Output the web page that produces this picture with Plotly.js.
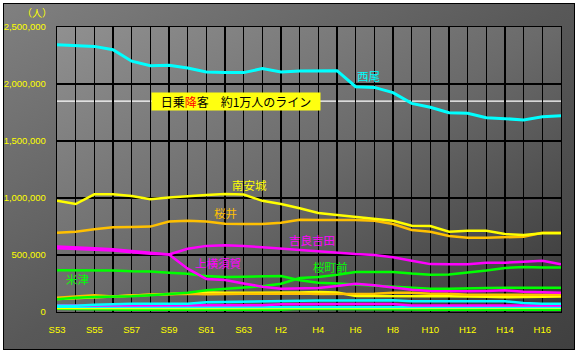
<!DOCTYPE html>
<html><head><meta charset="utf-8">
<script src="https://cdn.plot.ly/plotly-3.0.1.min.js"></script>
<style>
html,body{margin:0;padding:0;background:#fff;}
#wrap{position:relative;width:578px;height:353px;overflow:hidden;background:#fff;}
#frame{position:absolute;left:3px;top:3px;width:570px;height:345px;border:1px solid #000;background:linear-gradient(to bottom right,#808080 0%,#585858 50%,#404040 100%);}
#plotbg{position:absolute;left:57px;top:27px;width:504px;height:285px;background:linear-gradient(to bottom right,#909090 0%,#6a6a6a 50%,#383838 100%);}
#chart{position:absolute;left:0;top:0;width:578px;height:353px;}
</style></head><body>
<div id="wrap"><div id="frame"></div><div id="plotbg"></div><div id="chart"></div></div>
<script>
// Categories: fiscal years S53 (1978) .. H17 (2005)
const categories = ['S53','S54','S55','S56','S57','S58','S59','S60','S61','S62','S63','H1','H2','H3','H4','H5','H6','H7','H8','H9','H10','H11','H12','H13','H14','H15','H16','H17'];
const xTickText  = ['S53','','S55','','S57','','S59','','S61','','S63','','H2','','H4','','H6','','H8','','H10','','H12','','H14','','H16',''];

// Passenger counts (人)
const nishio        = [2345000,2335000,2330000,2300000,2200000,2160000,2165000,2140000,2105000,2100000,2100000,2135000,2105000,2115000,2115000,2117000,1976000,1970000,1924000,1830000,1796000,1748000,1743000,1704000,1696000,1684000,1713000,1722000];
const minamiAnjo    = [976000,947000,1032000,1032000,1018000,989000,1005000,1018000,1026000,1035000,1030000,975000,947000,910000,868000,851000,836000,822000,801000,757000,754000,704000,713000,713000,684000,675000,690000,690000];
const sakurai       = [696000,705000,725000,743000,746000,749000,793000,801000,793000,775000,772000,772000,783000,810000,807000,807000,807000,800000,772000,719000,704000,667000,652000,652000,655000,660000,696000,696000];
const kiraYoshida   = [575000,570000,560000,550000,535000,515000,505000,555000,580000,585000,580000,568000,556000,544000,530000,515000,508000,500000,480000,450000,420000,418000,418000,432000,432000,441000,450000,418000];
const kamiYokosuka  = [560000,555000,550000,540000,525000,510000,505000,380000,290000,280000,250000,222000,205000,205000,211000,228000,248000,234000,215000,195000,185000,181000,181000,185000,190000,178000,172000,169000];
const yonezu        = [366000,366000,366000,364000,357000,355000,345000,336000,316000,307000,310000,316000,316000,278000,257000,249000,240000,237000,228000,219000,205000,205000,205000,210000,213000,213000,213000,213000];
const sakuramachi   = [111000,125000,132000,134000,138000,146000,155000,169000,190000,205000,215000,225000,248000,298000,307000,327000,351000,351000,351000,337000,327000,330000,345000,364000,386000,395000,390000,390000];
const orangeSmall   = [125000,137000,146000,137000,146000,152000,155000,161000,155000,161000,161000,161000,163000,163000,158000,158000,161000,161000,169000,169000,161000,161000,152000,152000,152000,152000,152000,152000];
const yellowSmall   = [115000,120000,130000,135000,145000,152000,160000,168000,170000,168000,168000,168000,166000,172000,175000,170000,140000,138000,138000,138000,138000,138000,138000,133000,130000,130000,130000,135000];
const cyanSmall1    = [55000,55000,64000,70000,73000,73000,73000,73000,85000,88000,92000,94000,94000,100000,100000,100000,100000,100000,102000,94000,94000,94000,94000,94000,94000,80000,73000,73000];
const magentaSmall  = [57000,57000,57000,57000,57000,57000,57000,57000,57000,57000,57000,59000,68000,70000,70000,70000,70000,70000,70000,57000,57000,57000,57000,57000,57000,57000,57000,57000];
const cyanSmall2    = [45000,45000,45000,45000,45000,45000,45000,45000,45000,45000,45000,45000,50000,50000,50000,50000,50000,50000,50000,44000,44000,44000,44000,44000,44000,44000,44000,44000];
const yellowSmall2  = [35000,35000,35000,35000,35000,35000,35000,35000,35000,35000,35000,40000,40000,40000,40000,40000,40000,40000,40000,38000,38000,38000,38000,38000,38000,38000,38000,38000];
const greenSmall    = [28000,25000,20000,20000,20000,20000,20000,20000,20000,20000,20000,20000,20000,28000,28000,28000,28000,28000,28000,22000,20000,20000,20000,20000,20000,20000,20000,20000];
const lineOf10000   = 1850000;

const CY='#00ffff', YE='#ffff00', OR='#ffc000', MA='#ff00ff', GR='#00ff00';
function tr(y,c,w){return {x:categories,y:y,type:'scatter',mode:'lines',line:{color:c,width:w||2.5},hoverinfo:'skip'};}
const data = [
  tr(greenSmall,GR), tr(yellowSmall2,YE), tr(cyanSmall2,CY), tr(magentaSmall,MA), tr(cyanSmall1,CY),
  tr(yellowSmall,YE), tr(orangeSmall,OR), tr(sakuramachi,GR), tr(yonezu,GR), tr(kamiYokosuka,MA),
  tr(kiraYoshida,MA), tr(sakurai,OR), tr(minamiAnjo,YE), tr(nishio,CY,3)
];
const jp='Noto Sans CJK JP';
function lab(t,c,x,y){return {text:t,xref:'paper',yref:'paper',x:x,y:y,xanchor:'center',yanchor:'middle',showarrow:false,font:{family:jp,size:11.5,color:c}};}
const layout = {
  width:578,height:353,
  margin:{l:57,r:17,t:27,b:41,pad:0},
  paper_bgcolor:'rgba(0,0,0,0)',plot_bgcolor:'rgba(0,0,0,0)',
  showlegend:false,
  xaxis:{type:'category',range:[0,27],tickmode:'array',tickvals:categories,ticktext:xTickText,
    showgrid:true,gridcolor:'#000',gridwidth:1.2,showline:true,linecolor:'#000',linewidth:1.2,mirror:true,
    ticks:'',ticklabelstandoff:8,zeroline:false,fixedrange:true,
    tickfont:{family:'Liberation Sans, Arial, sans-serif',size:9.5,color:YE}},
  yaxis:{range:[0,2500000],dtick:500000,tick0:0,tickformat:',d',
    showgrid:true,gridcolor:'#000',gridwidth:1.2,showline:true,linecolor:'#000',linewidth:1.2,mirror:true,
    ticks:'',ticklabelstandoff:8,zeroline:false,fixedrange:true,
    tickfont:{family:'Liberation Sans, Arial, sans-serif',size:9.5,color:YE}},
  shapes:[{type:'line',xref:'paper',yref:'y',x0:0,x1:1,y0:lineOf10000,y1:lineOf10000,line:{color:'#ffffff',width:1.2},layer:'between'}],
  annotations:[
    {text:'（人）',xref:'paper',yref:'paper',x:-0.04,y:1.052,xanchor:'center',yanchor:'middle',showarrow:false,font:{family:jp,size:10,color:YE}},
    {text:'日乗<span style="color:#ff0000">降</span>客　約1万人のライン',xref:'paper',yref:'paper',x:0.355,y:0.740,xanchor:'center',yanchor:'middle',showarrow:false,
      font:{family:jp,size:12,color:'#000'},bgcolor:'#ffff10',borderpad:2,width:164,height:13},
    lab('西尾',CY,0.619,0.829),
    lab('南安城',YE,0.381,0.446),
    lab('桜井',OR,0.334,0.348),
    lab('吉良吉田',MA,0.505,0.253),
    lab('上横須賀',MA,0.319,0.171),
    lab('桜町前',GR,0.543,0.159),
    lab('米津',GR,0.040,0.115)
  ]
};
Plotly.newPlot('chart',data,layout,{staticPlot:true,displayModeBar:false});
</script>
</body></html>
